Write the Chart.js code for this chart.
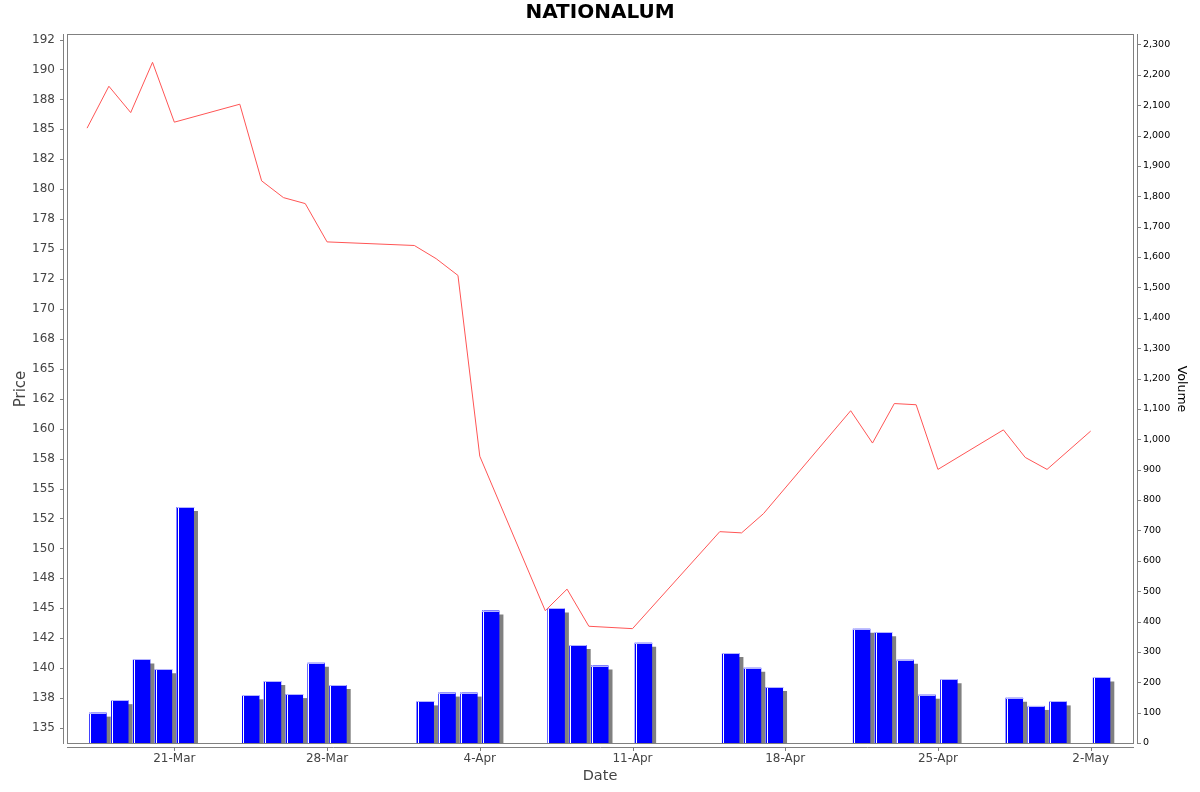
<!DOCTYPE html>
<html>
<head>
<meta charset="utf-8">
<title>NATIONALUM</title>
<script src="https://cdn.jsdelivr.net/npm/chart.js@4.4.1/dist/chart.umd.min.js"></script>
<style>
    html, body { margin: 0; padding: 0; background: #ffffff; }
    #wrap { width: 1200px; height: 792px; position: relative; }
</style>
</head>
<body>
<div id="wrap"><canvas id="priceChart"></canvas></div>
<script>
// Trading days on the chart
const dates = [
    '2025-03-17', '2025-03-18', '2025-03-19', '2025-03-20', '2025-03-21',
    '2025-03-24', '2025-03-25', '2025-03-26', '2025-03-27', '2025-03-28',
    '2025-04-01', '2025-04-02', '2025-04-03', '2025-04-04',
    '2025-04-07', '2025-04-08', '2025-04-09', '2025-04-11',
    '2025-04-15', '2025-04-16', '2025-04-17',
    '2025-04-21', '2025-04-22', '2025-04-23', '2025-04-24', '2025-04-25',
    '2025-04-28', '2025-04-29', '2025-04-30', '2025-05-02'
];

// Closing price per day
const closePrices = [
    185.1, 188.6, 186.4, 190.6, 185.6,
    187.1, 180.7, 179.3, 178.8, 175.6,
    175.3, 174.2, 172.8, 157.7,
    144.8, 146.6, 143.5, 143.3,
    151.4, 151.3, 152.9,
    161.5, 158.8, 162.1, 162.0, 156.6,
    159.9, 157.6, 156.6, 159.8
];

// Traded volume per day
const volumes = [
    100, 141, 275, 243, 777,
    157, 204, 161, 264, 191,
    137, 166, 166, 436,
    443, 323, 255, 330,
    296, 248, 184,
    376, 365, 274, 159, 210,
    149, 122, 137, 216
];

// Axis ticks
const dateTicks = ['2025-03-21', '2025-03-28', '2025-04-04', '2025-04-11', '2025-04-18', '2025-04-25', '2025-05-02'];
const priceTicks = [135, 137.5, 140, 142.5, 145, 147.5, 150, 152.5, 155, 157.5, 160, 162.5,
                    165, 167.5, 170, 172.5, 175, 177.5, 180, 182.5, 185, 187.5, 190, 192.5];

const MONTHS = ['Jan', 'Feb', 'Mar', 'Apr', 'May', 'Jun', 'Jul', 'Aug', 'Sep', 'Oct', 'Nov', 'Dec'];
const DAY = 86400000;
const origin = Date.parse(dates[0]);
const dayOf = s => (Date.parse(s) - origin) / DAY;

function dateLabel(v) {
    const d = new Date(origin + v * DAY);
    return d.getUTCDate() + '-' + MONTHS[d.getUTCMonth()];
}

// number format rounds .5 to even, so 192.5 -> 192, 187.5 -> 188
function roundHalfEven(v) {
    const f = Math.floor(v);
    if (Math.abs(v - f - 0.5) < 1e-9) return f % 2 === 0 ? f : f + 1;
    return Math.round(v);
}

const grey = '#808080';
const fontFamily = "'DejaVu Sans', sans-serif";
Chart.defaults.font.family = fontFamily;

// Plot frame plus axis lines sitting a few pixels off the plot
const framePlugin = {
    id: 'frame',
    beforeDatasetsDraw(chart) {
        const { ctx, chartArea: a, scales } = chart;
        ctx.save();
        ctx.strokeStyle = grey;
        ctx.lineWidth = 1;
        ctx.strokeRect(a.left + 0.5, a.top - 0.5, a.right - a.left, a.bottom - a.top + 1);

        ctx.beginPath();
        // left axis
        ctx.moveTo(a.left - 3.5, a.top - 1);
        ctx.lineTo(a.left - 3.5, a.bottom + 1);
        scales.yPrice.ticks.forEach(t => {
            const y = Math.round(scales.yPrice.getPixelForValue(t.value)) + 0.5;
            ctx.moveTo(a.left - 7, y);
            ctx.lineTo(a.left - 3.5, y);
        });
        // right axis
        ctx.moveTo(a.right + 4.5, a.top - 1);
        ctx.lineTo(a.right + 4.5, a.bottom + 1);
        scales.yVol.ticks.forEach(t => {
            const y = Math.round(scales.yVol.getPixelForValue(t.value)) + 0.5;
            ctx.moveTo(a.right + 4.5, y);
            ctx.lineTo(a.right + 8, y);
        });
        // bottom axis
        ctx.moveTo(a.left, a.bottom + 4.5);
        ctx.lineTo(a.right + 1, a.bottom + 4.5);
        scales.x.ticks.forEach(t => {
            const x = Math.round(scales.x.getPixelForValue(t.value)) + 0.5;
            ctx.moveTo(x, a.bottom + 4.5);
            ctx.lineTo(x, a.bottom + 8);
        });
        ctx.stroke();
        ctx.restore();
    }
};

// Grey drop shadow and a light edge on the volume bars
const barLookPlugin = {
    id: 'barLook',
    beforeDatasetDraw(chart, args) {
        if (args.index !== 0) return;
        const ctx = chart.ctx;
        ctx.save();
        ctx.shadowColor = grey;
        ctx.shadowOffsetX = 4;
        ctx.shadowOffsetY = 4;
        ctx.shadowBlur = 0;
    },
    afterDatasetDraw(chart, args) {
        if (args.index !== 0) return;
        const ctx = chart.ctx;
        ctx.restore();
        ctx.save();
        args.meta.data.forEach(bar => {
            const lx = Math.round(bar.x - bar.width / 2);
            const h = bar.base - bar.y;
            ctx.fillStyle = '#ffffff';
            ctx.fillRect(lx + 1, bar.y, 1, h);
            ctx.fillStyle = '#b4b4ff';
            ctx.fillRect(lx, Math.round(bar.y), bar.width, 1);
        });
        ctx.restore();
    }
};

const ctx = document.getElementById('priceChart').getContext('2d');
const priceChart = new Chart(ctx, {
    type: 'bar',
    data: {
        datasets: [{
            type: 'bar',
            label: 'Volume',
            data: dates.map((d, i) => ({ x: dayOf(d) + 0.5, y: volumes[i] })),
            yAxisID: 'yVol',
            backgroundColor: '#0000ff',
            borderWidth: 0,
            barPercentage: 0.8,
            categoryPercentage: 1,
            order: 2
        }, {
            type: 'line',
            label: 'Price',
            data: dates.map((d, i) => ({ x: dayOf(d), y: closePrices[i] })),
            yAxisID: 'yPrice',
            borderColor: '#ff5555',
            borderWidth: 1,
            pointRadius: 0,
            tension: 0,
            fill: false,
            order: 1
        }]
    },
    options: {
        responsive: true,
        maintainAspectRatio: false,
        animation: false,
        layout: { padding: 0 },
        plugins: {
            legend: { display: false },
            tooltip: { enabled: false },
            title: {
                display: true,
                text: 'NATIONALUM',
                color: '#000000',
                font: { family: fontFamily, size: 20, weight: 'bold' },
                padding: { top: 1, bottom: 10 }
            }
        },
        scales: {
            x: {
                type: 'linear',
                position: 'bottom',
                min: -0.92,
                max: 47.94,
                offset: false,
                grid: { display: false, drawTicks: false },
                border: { display: false },
                afterBuildTicks: s => { s.ticks = dateTicks.map(t => ({ value: dayOf(t) })); },
                afterFit: s => { s.height = 49; },
                ticks: {
                    callback: v => dateLabel(v),
                    color: '#444444',
                    font: { size: 12 },
                    padding: 9,
                    maxRotation: 0,
                    autoSkip: false
                },
                title: {
                    display: true,
                    text: 'Date',
                    color: '#444444',
                    font: { size: 14.5 },
                    padding: { top: 0, bottom: 7 }
                }
            },
            yPrice: {
                type: 'linear',
                position: 'left',
                min: 133.75,
                max: 192.88,
                grid: { display: false, drawTicks: false },
                border: { display: false },
                afterBuildTicks: s => { s.ticks = priceTicks.map(v => ({ value: v })); },
                afterFit: s => { s.width = 67; },
                ticks: {
                    callback: v => String(roundHalfEven(v)),
                    color: '#444444',
                    font: { size: 12 },
                    padding: 12
                },
                title: {
                    display: true,
                    text: 'Price',
                    color: '#444444',
                    font: { size: 15 },
                    padding: { top: 12, bottom: 0 }
                }
            },
            yVol: {
                type: 'linear',
                position: 'right',
                min: 0,
                max: 2331,
                grid: { display: false, drawTicks: false },
                border: { display: false },
                afterFit: s => { s.width = 67; },
                ticks: {
                    stepSize: 100,
                    includeBounds: false,
                    callback: v => v.toLocaleString('en-US'),
                    color: '#000000',
                    font: { size: 9.5 },
                    padding: 10
                },
                title: {
                    display: true,
                    text: 'Volume',
                    color: '#000000',
                    font: { size: 12.5 },
                    padding: { top: 11, bottom: 0 }
                }
            }
        }
    },
    plugins: [framePlugin, barLookPlugin]
});
</script>
</body>
</html>
